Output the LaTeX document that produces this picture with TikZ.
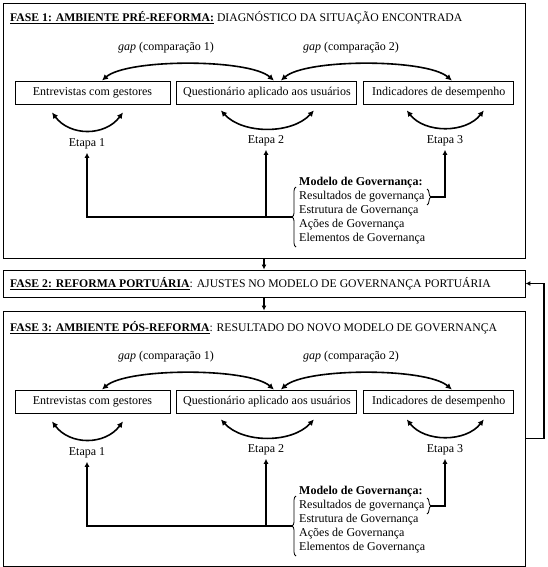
\documentclass[tikz,border=0pt]{standalone}
\usepackage{fontspec}
\setmainfont{Liberation Serif}
\usepackage{tikz}
\usetikzlibrary{positioning,arrows.meta,calc,decorations.pathreplacing}

\begin{document}
\begin{tikzpicture}[
  x=1pt, y=-1pt,
  every node/.style={font=\fontsize{12}{14}\selectfont},
  frame/.style={draw, line width=0.9pt, minimum width=522pt, inner sep=0pt},
  box/.style={draw, line width=0.9pt, minimum height=23pt, inner xsep=6pt, inner ysep=2pt},
  ttl/.style={anchor=west, inner sep=3pt, font=\fontsize{11.7}{14}\selectfont},
  arr/.style={-{Latex[length=5pt,width=5pt]}, line width=1.1pt},
  arc/.style={{Latex[length=6pt,width=6pt]}-{Latex[length=6pt,width=6pt]}, line width=1.6pt},
  brc/.style={decorate, decoration={brace, amplitude=4pt}, line width=0.8pt},
  node distance=6pt
]
  \useasboundingbox (0,0) rectangle (548,567);

  % the three phases
  \node[frame, minimum height=255pt] (f1) at (264,130.5) {};
  \node[frame, minimum height=27pt] (f2) at (264,283.5) {};
  \node[frame, minimum height=255pt] (f3) at (264,438.5) {};
  \node[ttl] (t1) at (7,18) {\underline{\textbf{FASE 1: AMBIENTE PRÉ-REFORMA:}} DIAGNÓSTICO DA SITUAÇÃO ENCONTRADA};
  \node[ttl] (t2) at (7,283.5) {\underline{\textbf{FASE 2: REFORMA PORTUÁRIA}}: AJUSTES NO MODELO DE GOVERNANÇA PORTUÁRIA};
  \node[ttl] (t3) at (7,328) {\underline{\textbf{FASE 3: AMBIENTE PÓS-REFORMA}}: RESULTADO DO NOVO MODELO DE GOVERNANÇA};
  \coordinate (fb) at (544,438.5);

  \draw[arr] (f1) -- (f2);
  \draw[arr] (f2) -- (f3);
  \draw[arr] (f3.east) -- (fb) |- (f2.east);

  % same content before and after the reform
  \foreach \p/\dy in {a/0, c/309} {
    \node[box, minimum width=155pt] (\p1) at (92.5,{92.5+\dy}) {Entrevistas com gestores};
    \node[box, minimum width=180pt, right=of \p1] (\p2) {Questionário aplicado aos usuários};
    \node[box, minimum width=150pt, right=of \p2] (\p3) {Indicadores de desempenho};
    \node (\p g1) at (166,{48+\dy}) {\textit{gap} (comparação 1)};
    \node (\p g2) at (351,{48+\dy}) {\textit{gap} (comparação 2)};
    \node (\p e1) at (87,{144+\dy}) {Etapa 1};
    \node (\p e2) at (266,{141+\dy}) {Etapa 2};
    \node (\p e3) at (445,{141+\dy}) {Etapa 3};
    \node[align=left, anchor=west, inner sep=2pt] (\p m) at (297,{211+\dy})
      {\textbf{Modelo de Governança:}\\Resultados de governança\\Estrutura de Governança\\Ações de Governança\\Elementos de Governança};

    \draw[arc] ([xshift=9.5pt]\p1.north) .. controls +(25,-22) and +(-25,-22) .. ([xshift=7pt]\p2.north);
    \draw[arc] ([xshift=14pt]\p2.north) .. controls +(25,-22) and +(-25,-22) .. ([xshift=13pt]\p3.north);
    \draw[arc] ([xshift=-40.5pt,yshift=-8pt]\p1.south) .. controls +(18,24) and +(-18,24) .. ([xshift=30.5pt,yshift=-8pt]\p1.south);
    \draw[arc] ([xshift=-46pt,yshift=-6pt]\p2.south) .. controls +(22,24) and +(-22,24) .. ([xshift=47pt,yshift=-6pt]\p2.south);
    \draw[arc] ([xshift=-32pt,yshift=-6pt]\p3.south) .. controls +(18,23) and +(-18,23) .. ([xshift=45pt,yshift=-6pt]\p3.south);

    \draw[brc] (296,{247+\dy}) -- (296,{187+\dy});
    \draw[brc] (427,{189+\dy}) -- (427,{205+\dy});
    \coordinate (\p bl) at (292,{217+\dy});
    \coordinate (\p br) at (431,{197+\dy});
    \draw[arr] (\p bl) -| (\p e1);
    \draw[arr] (\p e2 |- \p bl) -- (\p e2);
    \draw[arr] (\p br) -| (\p e3);
  }
\end{tikzpicture}
\end{document}
